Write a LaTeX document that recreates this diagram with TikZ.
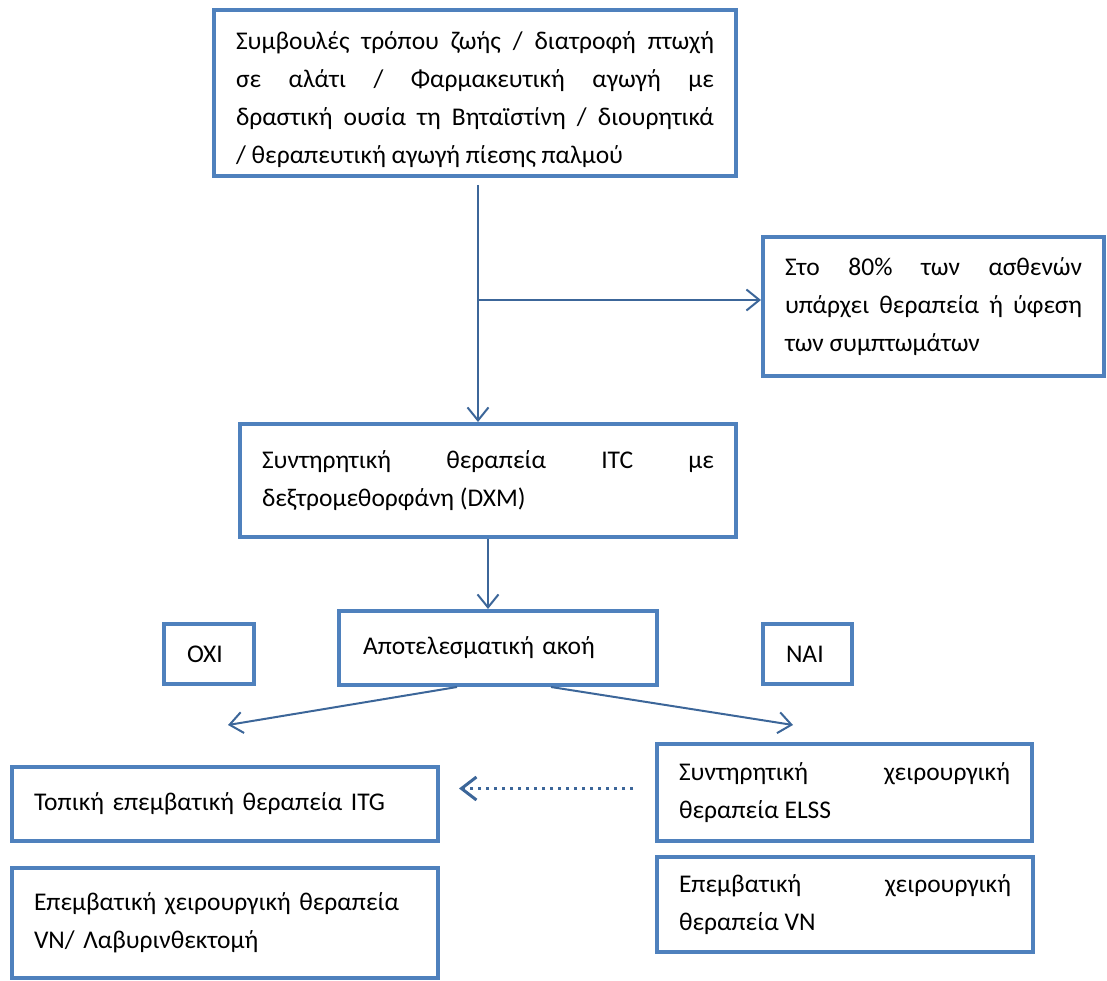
\documentclass[tikz,border=0pt]{standalone}
\usepackage{fontspec}
\setmainfont{Carlito}
\usetikzlibrary{arrows.meta,calc}
\definecolor{boxBlue}{HTML}{4F81BD}
\definecolor{lineBlue}{HTML}{3C6699}
\hyphenpenalty=10000
\tolerance=9999

\begin{document}
\begin{tikzpicture}[x=1pt, y=-1pt,
  box/.style={draw=boxBlue, line width=4pt, fill=white, inner xsep=22pt,
              inner ysep=0pt, align=justify,
              font=\fontsize{25.5}{38}\selectfont},
  arr/.style={-{Straight Barb[length=13pt,width=21pt]}, line width=2pt,
              color=lineBlue},
  dotarr/.style={-{Straight Barb[length=15pt,width=23pt]}, line width=3pt,
                 color=lineBlue, dash pattern=on 3pt off 5pt}
]
\useasboundingbox (0,0) rectangle (1107,981);

% Treatment steps
\node[box, text width=478pt, minimum height=166pt] (top) at (475,93)
  {\rule{0pt}{32pt}Συμβουλές τρόπου ζωής / διατροφή πτωχή\linebreak
   σε αλάτι / Φαρμακευτική αγωγή με\linebreak
   δραστική ουσία τη Βηταϊστίνη / διουρητικά\linebreak
   / θεραπευτική αγωγή πίεσης παλμού};
\node[box, text width=297pt, minimum height=139pt] (rbox) at (933.5,306.5)
  {Στο 80\% των ασθενών\linebreak
   υπάρχει θεραπεία ή ύφεση\linebreak
   των συμπτωμάτων};
\node[box, text width=452pt, minimum height=113pt] (itc) at (488,480.5)
  {Συντηρητική θεραπεία ITC με\linebreak
   δεξτρομεθορφάνη (DXM)};

% Decision
\node[box, align=left, text width=270pt, minimum height=74pt,
      inner xsep=24pt] (apot) at (498,648) {Αποτελεσματική ακοή};
\node[box, align=left, text width=44pt, minimum height=60pt,
      inner xsep=23pt] (oxi) at (209,654) {ΟΧΙ};
\node[box, align=left, text width=43pt, minimum height=60pt,
      inner xsep=23pt] (nai) at (807.5,654) {ΝΑΙ};

% Left branch
\node[box, align=left, text width=382pt, minimum height=74pt] (itg)
  at (225,804) {Τοπική επεμβατική θεραπεία ITG};
\node[box, align=left, text width=382pt, minimum height=110pt] (lab)
  at (225,923) {Επεμβατική χειρουργική θεραπεία\newline
   VN/ Λαβυρινθεκτομή};

% Right branch
\node[box, text width=331pt, minimum height=97pt] (elss) at (844.5,792.5)
  {Συντηρητική χειρουργική\linebreak θεραπεία ELSS};
\node[box, text width=332pt, minimum height=95pt] (vn) at (845,904.5)
  {Επεμβατική χειρουργική\linebreak θεραπεία VN};

% Connectors
\coordinate (split) at (478,300);
\coordinate (noTip) at (228,725);
\coordinate (yesTip) at (793,725);
\draw[arr] ($(top.south -| split)+(0,7)$) -- (itc.north -| split);
\draw[arr] (split) -- (split -| rbox.west);
\draw[arr] (itc.south) -- (itc.south |- apot.north);
\draw[arr] ($(apot.south)+(-41,0)$) -- (noTip);
\draw[arr] ($(apot.south)+(53,0)$) -- (yesTip);
\draw[dotarr, shorten >=19pt] ($(elss.west)+(-22,-4)$)
  -- ($(elss.west -| itg.east)+(0,-4)$);

\end{tikzpicture}
\end{document}
